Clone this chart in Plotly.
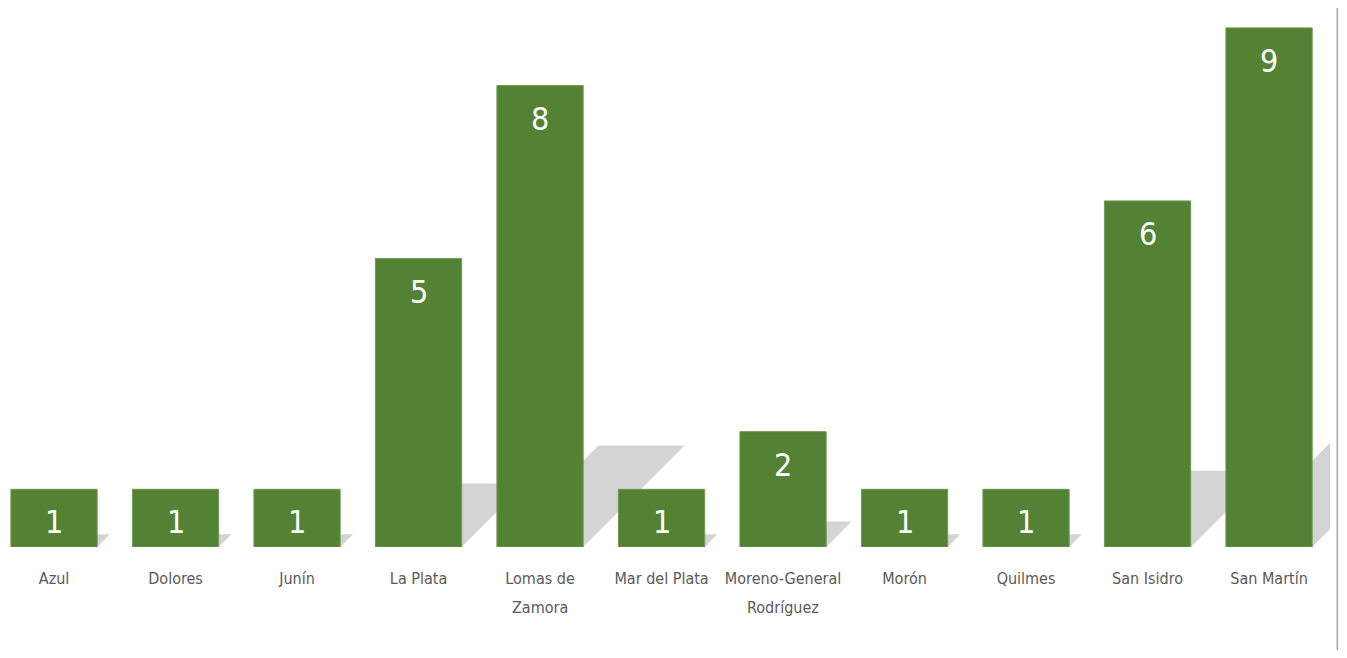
import plotly.graph_objects as go

categories = ["Azul", "Dolores", "Junín", "La Plata", "Lomas de\nZamora", "Mar del Plata",
              "Moreno-General\nRodríguez", "Morón", "Quilmes", "San Isidro", "San Martín"]
values = [1, 1, 1, 5, 8, 1, 2, 1, 1, 6, 9]

BAR_COLOR = "#548235"
FONT = "DejaVu Sans Condensed, Liberation Sans Narrow, sans-serif"

x_pos = list(range(len(categories)))
first_lines = [c.split("\n")[0] for c in categories]
second_lines = [c.split("\n")[1] if "\n" in c else "" for c in categories]

bar_w = 0.71
px_per_x = 121.5
W, H = 1331, 642
margin = dict(l=0, r=1, t=2, b=103, autoexpand=False)
plot_w = W - margin["l"] - margin["r"]
plot_h = H - margin["t"] - margin["b"]
x_left = -0.379
x_range = [x_left, x_left + plot_w / px_per_x]
shadow_clip = x_left + (plot_w - 8) / px_per_x
y_range = [0, 9.31]
px_per_y = plot_h / (y_range[1] - y_range[0])


def clip_poly(pts, xc):
    out = []
    n = len(pts)
    for i in range(n):
        p, q = pts[i], pts[(i + 1) % n]
        pin, qin = p[0] <= xc, q[0] <= xc
        if pin:
            out.append(p)
        if pin != qin:
            t = (xc - p[0]) / (q[0] - p[0])
            out.append((xc, p[1] + t * (q[1] - p[1])))
    return out


fig = go.Figure()
fig.add_trace(go.Bar(
    x=x_pos, y=values, width=bar_w,
    marker=dict(color=BAR_COLOR, line=dict(color="#6e9a52", width=1)),
    hoverinfo="skip",
))

shapes = []
# sheared shadows behind bars
for xi, v in zip(x_pos, values):
    h = 0.22 * v
    s = h * px_per_y / px_per_x
    pts = [(xi - bar_w / 2, 0), (xi + bar_w / 2, 0),
           (xi + bar_w / 2 + s, h), (xi - bar_w / 2 + s, h)]
    pts = clip_poly(pts, shadow_clip)
    path = "M " + " L ".join(f"{px},{py}" for px, py in pts) + " Z"
    shapes.append(dict(type="path", path=path, xref="x", yref="y",
                       fillcolor="rgba(0,0,0,0.17)", line=dict(width=0), layer="below"))

# right border line
shapes.append(dict(type="line", xref="paper", yref="paper",
                   x0=0.9995, x1=0.9995,
                   y0=-margin["b"] / plot_h, y1=1 + 2 / plot_h,
                   line=dict(color="#a6a6a6", width=1.5), layer="above"))

annotations = []
for xi, v in zip(x_pos, values):
    annotations.append(dict(x=xi, y=v, xref="x", yref="y", text=str(v),
                            showarrow=False, yanchor="middle", yshift=-33,
                            font=dict(family=FONT, size=32, color="white")))
for xi, t2 in zip(x_pos, second_lines):
    if t2:
        annotations.append(dict(x=xi, y=0, xref="x", yref="y", text=t2,
                                showarrow=False, yanchor="middle", yshift=-60,
                                font=dict(family=FONT, size=16, color="#595959")))

fig.update_layout(
    width=W, height=H,
    margin=margin,
    plot_bgcolor="white", paper_bgcolor="white",
    showlegend=False,
    shapes=shapes,
    annotations=annotations,
    xaxis=dict(range=x_range, tickmode="array", tickvals=x_pos, ticktext=first_lines,
               showgrid=False, zeroline=False, showline=False, ticks="",
               automargin=False, ticklabelstandoff=20,
               tickfont=dict(family=FONT, size=16, color="#595959")),
    yaxis=dict(range=y_range, showgrid=False, zeroline=False, showline=False,
               showticklabels=False, ticks="", automargin=False),
)

fig.write_html("out.html")
